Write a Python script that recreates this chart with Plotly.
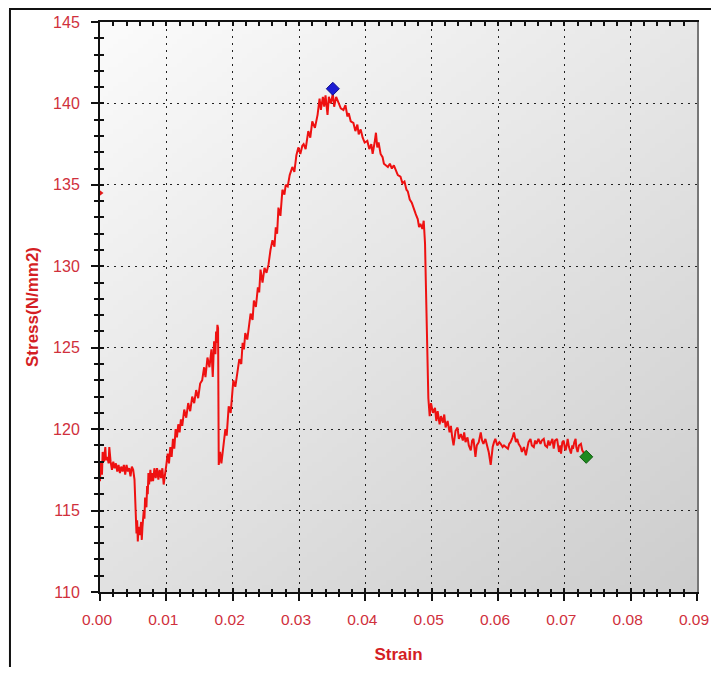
import base64, struct, zlib
import plotly.graph_objects as go

# ---------------- data ----------------
a_strain = [0.0000,0.0001,0.0003,0.0004,0.0006,0.0008,0.0009,0.0011,0.0013,0.0014,0.0016,0.0018,0.0020,0.0022,0.0024,0.0026,0.0028,0.0030,0.0032,0.0034,0.0036,0.0038,0.0040,0.0042,0.0044,0.0046,0.0048,0.0050,0.0052]
a_stress = [116.8,118.0,117.2,118.6,118.0,118.9,118.1,118.3,117.9,118.9,118.0,117.5,118.0,117.6,117.9,117.4,117.8,117.3,117.7,117.4,117.8,117.2,117.8,117.4,117.6,117.1,117.7,117.5,116.9]

b_strain = [0.0054,0.0055,0.0056,0.0057,0.0058,0.0060,0.0062,0.0063,0.0064,0.0066,0.0067,0.0068,0.0070,0.0071,0.0072,0.0073,0.0074,0.0076,0.0077,0.0079,0.0080,0.0082,0.0084,0.0086,0.0088,0.0090,0.0092,0.0094,0.0096,0.0098]
b_stress = [114.2,113.6,114.4,113.1,114.0,113.5,114.3,113.2,114.0,115.0,114.5,115.8,115.2,116.5,116.0,117.3,116.6,117.5,116.8,117.3,116.8,117.6,117.0,117.6,116.9,117.5,117.0,117.6,116.6,117.4]

c_strain = [0.0100,0.0102,0.0104,0.0106,0.0108,0.0110,0.0112,0.0114,0.0116,0.0118,0.0120,0.0122,0.0124,0.0127,0.0130,0.0133,0.0136,0.0139,0.0142,0.0145,0.0148,0.0151,0.0154,0.0157,0.0159,0.0162,0.0165,0.0168,0.0170,0.0172,0.0174,0.0175,0.0176,0.0177,0.0178]
c_stress = [117.8,118.5,117.9,118.9,118.3,119.4,118.8,120.0,119.5,120.3,119.8,120.6,120.2,121.2,120.7,121.6,121.1,122.0,121.6,122.4,121.9,122.8,123.0,123.8,123.2,124.4,123.8,124.9,123.2,125.4,124.6,126.0,125.3,126.4,126.2]

d_strain = [0.0179,0.0181,0.0183,0.0185,0.0187,0.0189,0.0191,0.0194,0.0197,0.0199,0.0201,0.0204,0.0207,0.0210,0.0213,0.0215,0.0217,0.0219,0.0222,0.0225,0.0227,0.0230,0.0232,0.0235,0.0238,0.0240,0.0242,0.0245,0.0248,0.0251,0.0254,0.0257,0.0260,0.0263,0.0265,0.0267,0.0269,0.0272,0.0275,0.0278,0.0280,0.0283,0.0286,0.0290,0.0293,0.0296,0.0299,0.0302,0.0305,0.0307,0.0310,0.0314,0.0317,0.0320,0.0324,0.0328,0.0331,0.0333,0.0336,0.0338,0.0340,0.0343]
d_stress = [117.8,118.6,117.9,118.5,119.3,120.0,119.6,121.4,121.0,122.3,123.0,122.6,123.6,124.3,124.0,125.3,124.9,125.9,125.5,126.6,127.1,126.7,127.9,127.5,128.7,128.4,129.8,129.0,129.9,129.6,130.1,131.0,131.6,131.2,132.4,132.0,133.6,133.1,134.7,134.4,135.0,134.9,135.6,136.1,135.8,136.8,137.3,136.9,137.4,137.5,137.2,138.3,137.9,138.9,138.5,139.3,140.3,139.6,140.4,139.8,140.5,139.3]

e_strain = [0.0345,0.0348,0.0351,0.0353,0.0356,0.0360,0.0363,0.0367,0.0370,0.0373,0.0375,0.0378,0.0382,0.0385,0.0388,0.0390,0.0393,0.0396,0.0399,0.0403,0.0406,0.0409,0.0411,0.0414,0.0416,0.0418,0.0420,0.0423,0.0426,0.0428,0.0431,0.0434,0.0437,0.0440,0.0443,0.0446,0.0449,0.0453,0.0456,0.0459,0.0462,0.0464,0.0467,0.0470,0.0473,0.0476,0.0479,0.0481,0.0483,0.0486,0.0488,0.0490,0.0491,0.0494]
e_stress = [140.4,140.0,140.6,139.8,140.4,140.0,139.7,139.6,139.9,139.2,139.4,138.9,138.8,138.3,138.7,138.1,138.4,137.9,137.6,137.7,137.2,137.5,136.9,137.6,138.2,137.3,137.6,136.9,136.7,136.3,136.2,136.1,136.3,136.0,136.2,135.9,135.6,135.5,135.1,135.2,134.7,134.6,134.1,133.9,133.5,133.2,132.9,132.4,132.6,132.3,132.8,131.4,129.4,122.4]

f_strain = [0.0495,0.0497,0.0499,0.0502,0.0505,0.0507,0.0509,0.0512,0.0514,0.0517,0.0519,0.0521,0.0524,0.0527,0.0529,0.0531,0.0533,0.0536,0.0539,0.0541,0.0544,0.0547,0.0549,0.0551,0.0554,0.0556,0.0559,0.0561,0.0563,0.0566,0.0568,0.0571,0.0574,0.0576,0.0578,0.0581,0.0584,0.0586,0.0589,0.0592,0.0594,0.0596,0.0599,0.0602,0.0604,0.0607,0.0609,0.0612,0.0615,0.0617,0.0619,0.0622,0.0624,0.0627,0.0629,0.0631,0.0634,0.0636,0.0639,0.0642,0.0644,0.0646,0.0649,0.0651,0.0654,0.0656,0.0658,0.0661,0.0664,0.0666,0.0669,0.0671,0.0674,0.0676,0.0678,0.0680,0.0682,0.0684,0.0686,0.0689,0.0691,0.0692,0.0694,0.0695,0.0697,0.0699,0.0701,0.0702,0.0704,0.0705,0.0707,0.0710,0.0712,0.0713,0.0715,0.0717,0.0718,0.0720,0.0722,0.0725,0.0727,0.0728,0.0730,0.0733]
f_stress = [121.9,120.8,121.6,121.0,121.3,120.5,121.1,120.3,120.8,120.4,120.9,120.1,120.5,119.8,120.2,119.5,119.0,119.9,120.1,119.4,119.7,119.3,119.8,119.2,119.5,119.0,118.7,119.3,119.4,118.3,119.0,119.2,119.8,119.3,119.1,119.4,119.0,118.6,117.8,118.9,119.2,119.4,119.0,119.2,119.1,118.9,119.0,118.9,118.8,119.1,119.2,119.5,119.8,119.2,119.4,119.1,118.9,118.6,118.9,118.4,118.9,119.2,119.4,119.0,118.9,119.3,119.1,119.4,119.1,119.3,119.4,119.0,118.9,119.3,119.0,119.2,119.4,118.8,119.3,119.4,118.9,118.6,119.0,118.5,119.2,119.3,118.8,118.7,119.1,119.4,118.9,118.5,119.0,118.8,119.2,119.4,118.9,118.6,119.0,119.1,118.7,118.6,118.5,118.3]

start_strain = [0.0]
start_stress = [134.5]
peak_strain = [0.0351]
peak_stress = [140.9]
break_strain = [0.0733]
break_stress = [118.3]

x_ticks = [0.00, 0.01, 0.02, 0.03, 0.04, 0.05, 0.06, 0.07, 0.08, 0.09]
y_ticks = [110, 115, 120, 125, 130, 135, 140, 145]

strain = a_strain + b_strain + c_strain + d_strain + e_strain + f_strain
stress = a_stress + b_stress + c_stress + d_stress + e_stress + f_stress

# ---------------- gradient background image (pure python png) ----------------
def gradient_png(w=120, h=120):
    rows = []
    for j in range(h):
        v = j / (h - 1)
        row = bytearray([0])
        for i in range(w):
            u = i / (w - 1)
            g = int(round(251 - 20 * u - 26 * v))
            row += bytes([g, g, g])
        rows.append(bytes(row))
    raw = b"".join(rows)

    def chunk(tag, data):
        c = struct.pack(">I", len(data)) + tag + data
        return c + struct.pack(">I", zlib.crc32(tag + data) & 0xFFFFFFFF)

    png = b"\x89PNG\r\n\x1a\n"
    png += chunk(b"IHDR", struct.pack(">IIBBBBB", w, h, 8, 2, 0, 0, 0))
    png += chunk(b"IDAT", zlib.compress(raw, 9))
    png += chunk(b"IEND", b"")
    return "data:image/png;base64," + base64.b64encode(png).decode()

RED_TXT = "#d0303c"
RED_TITLE = "#d41e24"
FONT = "Liberation Sans, Arial, sans-serif"

fig = go.Figure()
fig.add_trace(go.Scatter(x=strain, y=stress, mode="lines",
                         line=dict(color="#ee1111", width=2), showlegend=False,
                         hoverinfo="skip"))
fig.add_trace(go.Scatter(x=start_strain, y=start_stress, mode="markers",
                         marker=dict(symbol="triangle-right", size=7, color="#e01818"),
                         cliponaxis=False, showlegend=False))
fig.add_trace(go.Scatter(x=peak_strain, y=peak_stress, mode="markers",
                         marker=dict(symbol="diamond", size=10, color="#1c1cd4",
                                     line=dict(color="#10108a", width=1)),
                         showlegend=False))
fig.add_trace(go.Scatter(x=break_strain, y=break_stress, mode="markers",
                         marker=dict(symbol="diamond", size=10, color="#1e8a1e",
                                     line=dict(color="#0e5a0e", width=1)),
                         showlegend=False))
# empty traces to host the decoration axes
fig.add_trace(go.Scatter(x=[], y=[], xaxis="x2", yaxis="y2", showlegend=False))
fig.add_trace(go.Scatter(x=[], y=[], xaxis="x3", yaxis="y3", showlegend=False))

xr = [0, 0.09]
yr = [110, 145]

# the page body adds an 8px margin, so the figure is sized to fit inside the window
fig.update_layout(
    width=711, height=659,
    margin=dict(l=92, r=22, t=14, b=75, autoexpand=False),
    paper_bgcolor="white",
    plot_bgcolor="rgba(0,0,0,0)",
    font=dict(family=FONT, color=RED_TXT),
    images=[dict(source=gradient_png(), xref="paper", yref="paper", x=0, y=1,
                 sizex=1, sizey=1, sizing="stretch", layer="below", xanchor="left", yanchor="top")],
    xaxis=dict(range=xr, tickvals=x_ticks, tickformat=".2f", automargin=False,
               showline=True, linecolor="#111", linewidth=2,
               ticks="outside", ticklen=7, tickwidth=1.5, tickcolor="#111",
               minor=dict(dtick=0.002, tick0=0, ticks="outside", ticklen=3, tickwidth=1.5,
                          tickcolor="#111", showgrid=False),
               showgrid=True, gridcolor="#222", gridwidth=1, griddash="2px,5px",
               zeroline=False, tickfont=dict(size=15.5, color=RED_TXT),
               ticklabelstandoff=5, ticklabelshift=-3,
               title=dict(text="<b>Strain</b>", font=dict(size=17, color=RED_TITLE), standoff=22)),
    yaxis=dict(range=yr, tickvals=y_ticks, automargin=False,
               showline=True, linecolor="#111", linewidth=2,
               ticks="outside", ticklen=7, tickwidth=1.5, tickcolor="#111",
               minor=dict(dtick=1, tick0=110, ticks="outside", ticklen=4, tickwidth=1.5,
                          tickcolor="#111", showgrid=False),
               showgrid=True, gridcolor="#222", gridwidth=1, griddash="2px,5px",
               zeroline=False, tickfont=dict(size=16, color=RED_TXT),
               ticklabelstandoff=8,
               title=dict(text="<b>Stress(N/mm2)</b>", font=dict(size=17, color=RED_TITLE), standoff=10)),
    xaxis2=dict(range=xr, overlaying="x", side="bottom", anchor="y2", automargin=False,
                tickvals=x_ticks, showticklabels=False, showgrid=False, zeroline=False,
                ticks="inside", ticklen=4, tickwidth=1.5, tickcolor="#111",
                minor=dict(dtick=0.002, tick0=0, ticks="inside", ticklen=3, tickwidth=1.5, tickcolor="#111")),
    yaxis2=dict(range=yr, overlaying="y", side="left", anchor="x2", automargin=False,
                tickvals=y_ticks, showticklabels=False, showgrid=False, zeroline=False,
                ticks="inside", ticklen=4, tickwidth=1.5, tickcolor="#111",
                minor=dict(dtick=1, tick0=110, ticks="inside", ticklen=4, tickwidth=1.5, tickcolor="#111")),
    xaxis3=dict(range=xr, overlaying="x", side="top", anchor="y3", automargin=False,
                tickvals=x_ticks, showticklabels=False, showgrid=False, zeroline=False,
                showline=True, linecolor="#111", linewidth=2,
                ticks="inside", ticklen=4, tickwidth=1.5, tickcolor="#111",
                minor=dict(dtick=0.002, tick0=0, ticks="inside", ticklen=4, tickwidth=1.5, tickcolor="#111")),
    yaxis3=dict(range=yr, overlaying="y", side="right", anchor="x3", automargin=False,
                showticklabels=False, showgrid=False, zeroline=False,
                showline=True, linecolor="#777", linewidth=1.5, ticks=""),
    shapes=[dict(type="rect", xref="paper", yref="paper",
                 x0=-0.1508, x1=1.05, y0=-0.2, y1=1.0228,
                 line=dict(color="#111", width=2), fillcolor="rgba(0,0,0,0)", layer="above")],
)

fig.write_html("out.html")
